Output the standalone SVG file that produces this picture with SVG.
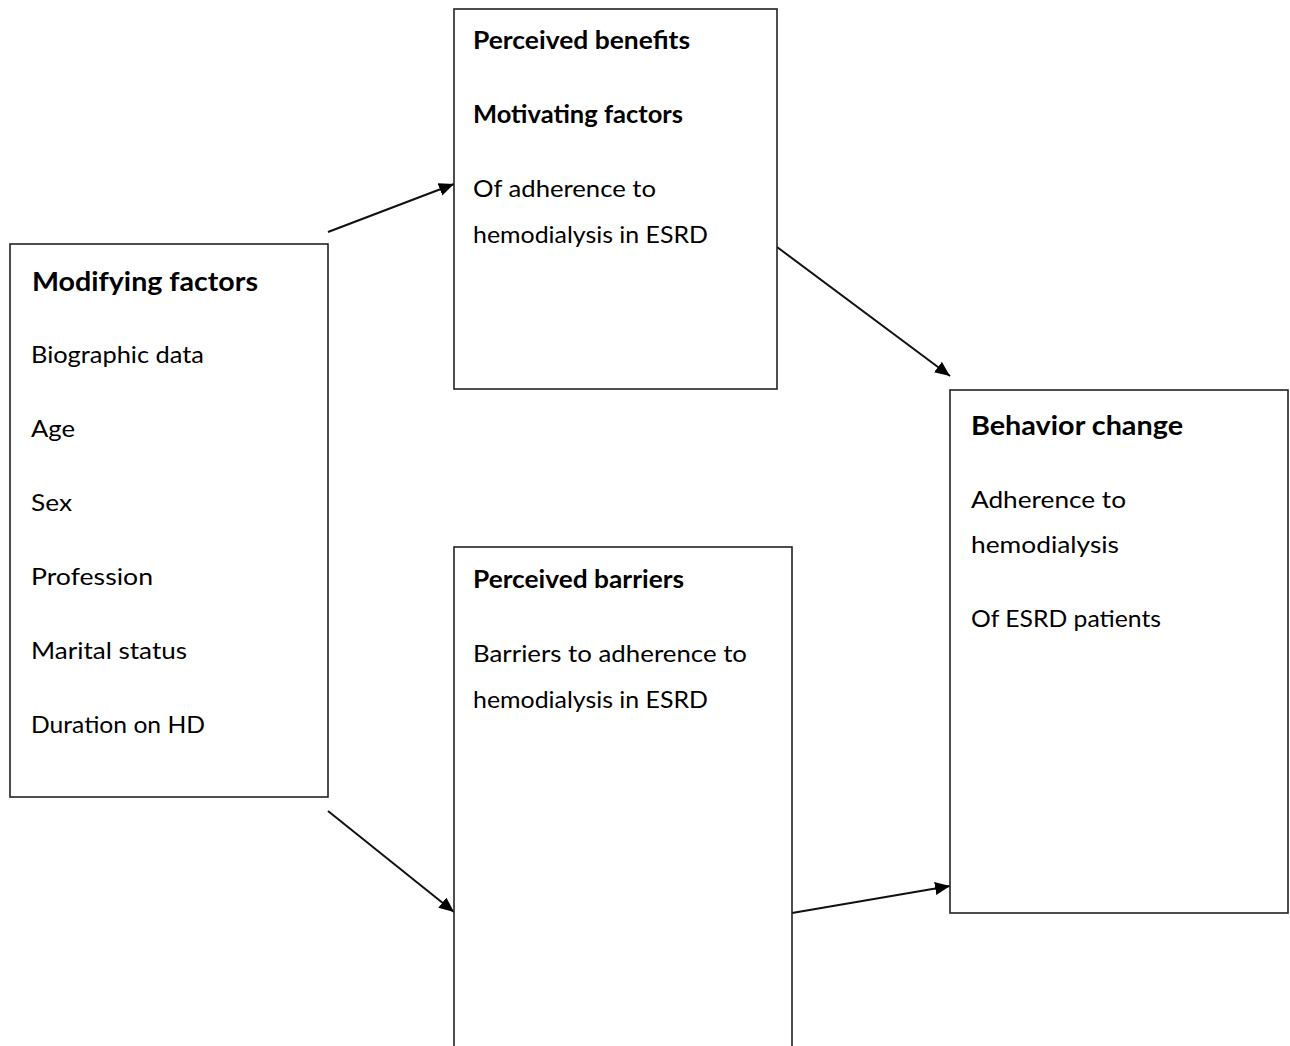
<svg xmlns="http://www.w3.org/2000/svg" width="1290" height="1046" viewBox="0 0 1290 1046">
<defs>
<marker id="arr" markerUnits="userSpaceOnUse" markerWidth="16" markerHeight="14" refX="15" refY="6.5" orient="auto">
<path d="M0,0 L15,6.5 L0,13 Z" fill="#000"/>
</marker>
<style>
.box{fill:#fff;stroke:#222;stroke-width:1.6}
.t{font-family:Lato,"Liberation Sans",sans-serif;font-size:24px;fill:#000}
.b{font-weight:bold}
.h{font-size:26px}
.c{stroke:#111;stroke-width:2;fill:none;marker-end:url(#arr)}
</style>
</defs>
<rect width="1290" height="1046" fill="#fff"/>
<g id="connectors">
<line class="c" x1="328" y1="232" x2="454" y2="184"/>
<line class="c" x1="777" y1="247" x2="950" y2="376"/>
<line class="c" x1="328" y1="811" x2="454" y2="912"/>
<line class="c" x1="792" y1="913" x2="950" y2="886"/>
</g>
<g id="modifying-factors">
<rect class="box" x="10" y="244" width="318" height="553"/>
<text class="t b h" x="32" y="291" textLength="226" lengthAdjust="spacingAndGlyphs">Modifying factors</text>
<text class="t" x="31" y="363" textLength="173" lengthAdjust="spacingAndGlyphs">Biographic data</text>
<text class="t" x="31" y="437" textLength="44" lengthAdjust="spacingAndGlyphs">Age</text>
<text class="t" x="31" y="511" textLength="41" lengthAdjust="spacingAndGlyphs">Sex</text>
<text class="t" x="31" y="585" textLength="122" lengthAdjust="spacingAndGlyphs">Profession</text>
<text class="t" x="31" y="659" textLength="156" lengthAdjust="spacingAndGlyphs">Marital status</text>
<text class="t" x="31" y="733" textLength="174" lengthAdjust="spacingAndGlyphs">Duration on HD</text>
</g>
<g id="perceived-benefits">
<rect class="box" x="454" y="9" width="323" height="380"/>
<text class="t b" x="473" y="49" textLength="217" lengthAdjust="spacingAndGlyphs">Perceived benefits</text>
<text class="t b" x="473" y="123" textLength="210" lengthAdjust="spacingAndGlyphs">Motivating factors</text>
<text class="t" x="473" y="197" textLength="183" lengthAdjust="spacingAndGlyphs">Of adherence to</text>
<text class="t" x="473" y="243" textLength="235" lengthAdjust="spacingAndGlyphs">hemodialysis in ESRD</text>
</g>
<g id="perceived-barriers">
<rect class="box" x="454" y="547" width="338" height="520"/>
<text class="t b" x="473" y="588" textLength="211" lengthAdjust="spacingAndGlyphs">Perceived barriers</text>
<text class="t" x="473" y="662" textLength="274" lengthAdjust="spacingAndGlyphs">Barriers to adherence to</text>
<text class="t" x="473" y="708" textLength="235" lengthAdjust="spacingAndGlyphs">hemodialysis in ESRD</text>
</g>
<g id="behavior-change">
<rect class="box" x="950" y="390" width="338" height="523"/>
<text class="t b h" x="971" y="435" textLength="212" lengthAdjust="spacingAndGlyphs">Behavior change</text>
<text class="t" x="971" y="508" textLength="155" lengthAdjust="spacingAndGlyphs">Adherence to</text>
<text class="t" x="971" y="553" textLength="148" lengthAdjust="spacingAndGlyphs">hemodialysis</text>
<text class="t" x="971" y="627" textLength="190" lengthAdjust="spacingAndGlyphs">Of ESRD patients</text>
</g>
</svg>
